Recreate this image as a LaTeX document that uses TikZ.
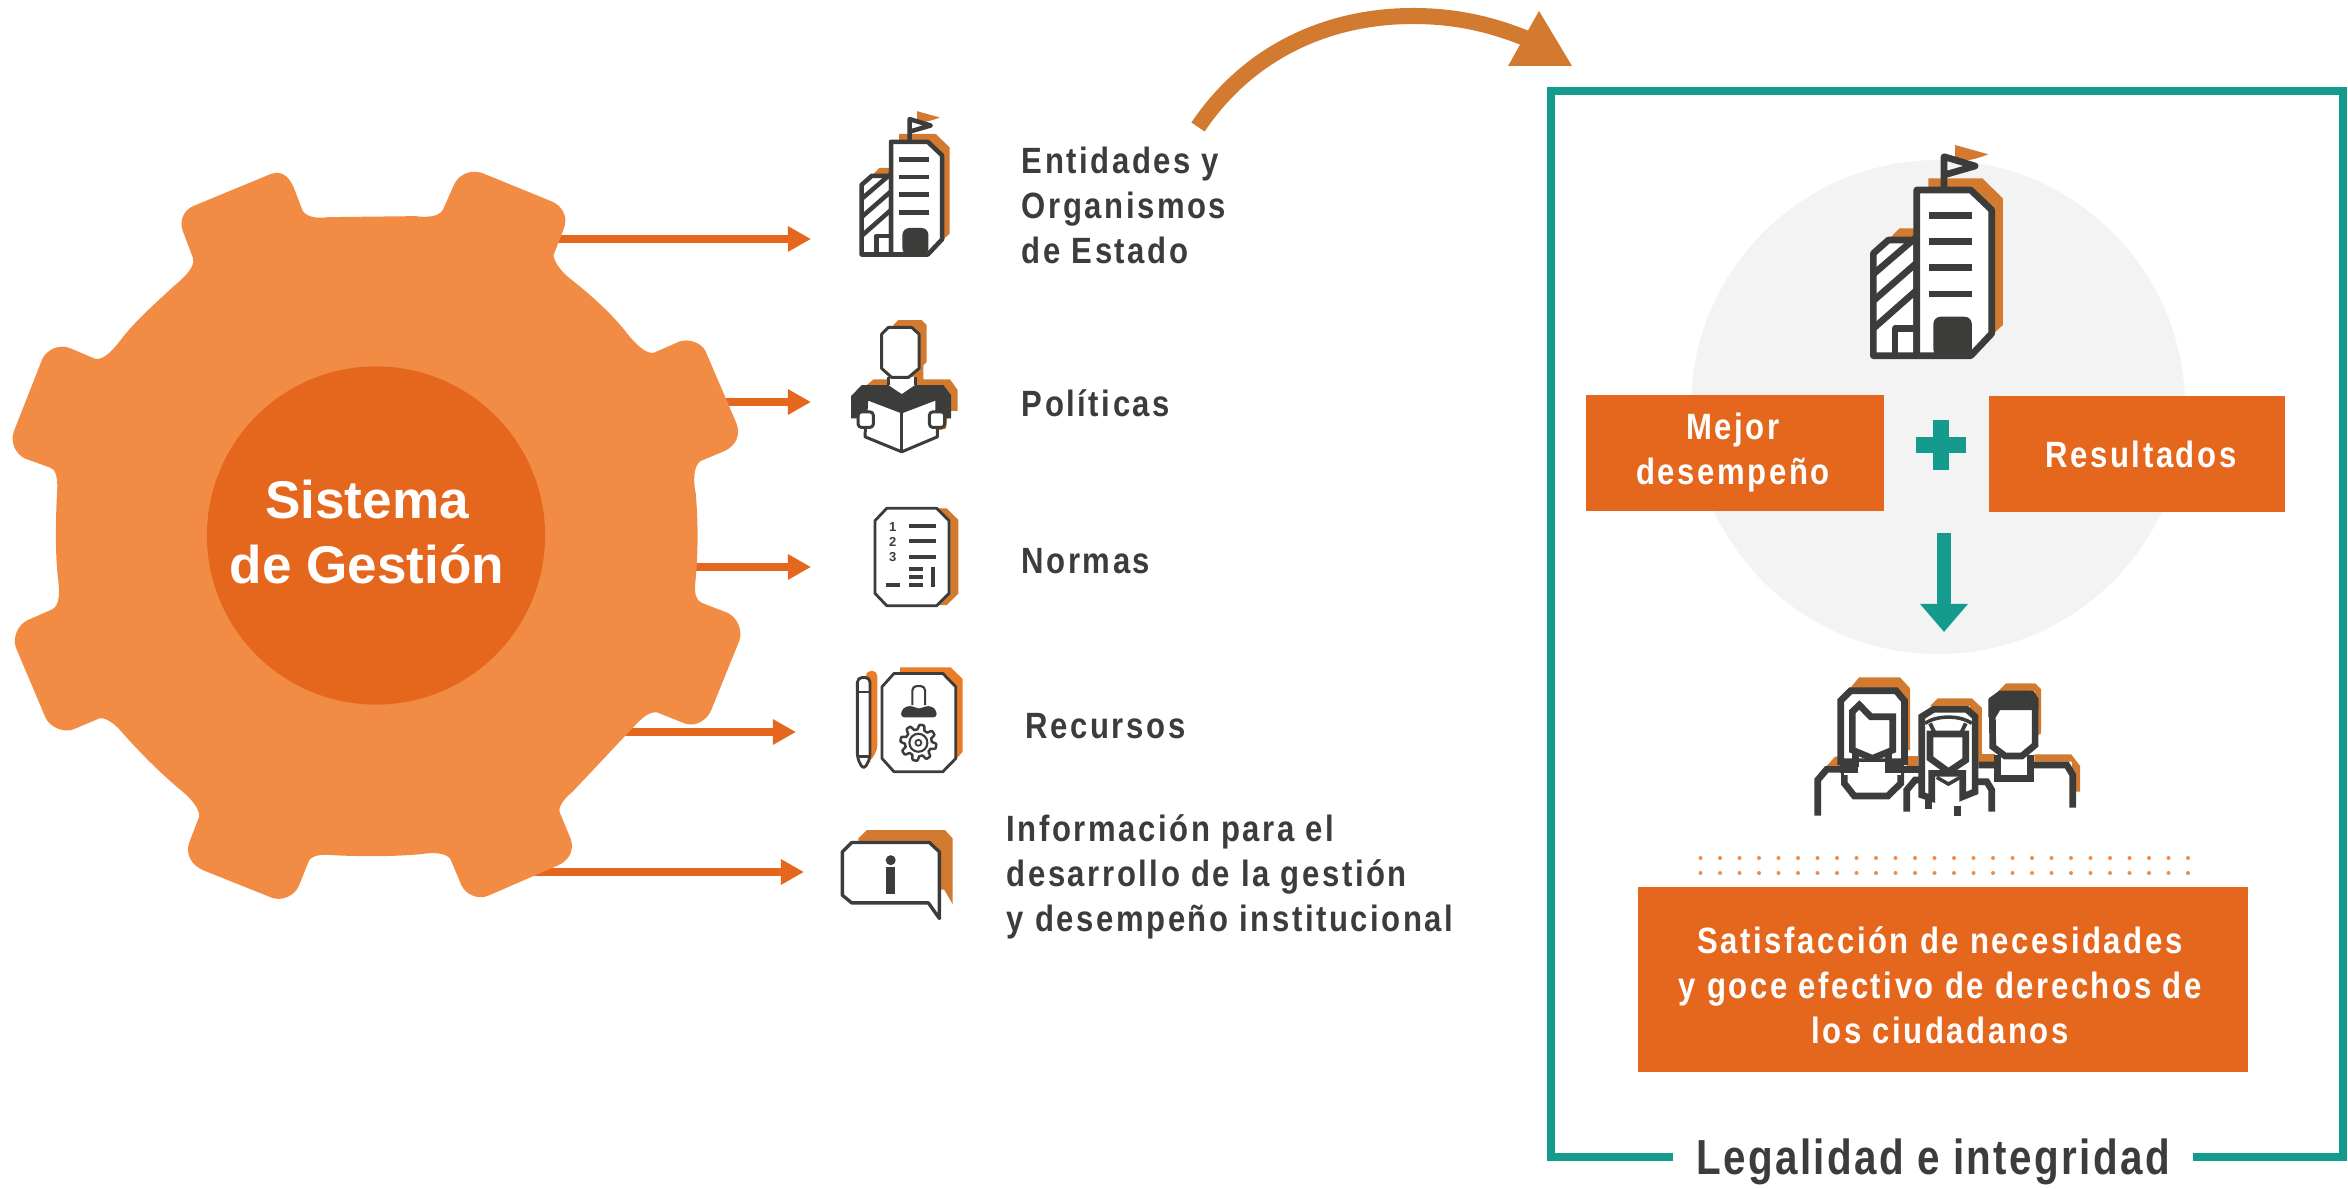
\documentclass[tikz,border=0pt]{standalone}
\usepackage{fontspec}
\usetikzlibrary{arrows.meta}
\setmainfont{Liberation Sans}
\newfontfamily\lblfont[LetterSpace=7,FakeStretch=0.85]{Liberation Sans}
\newfontfamily\legalfont[LetterSpace=4.8,FakeStretch=0.82]{Liberation Sans}
\definecolor{gearc}{HTML}{F28C45}
\definecolor{deep}{HTML}{E5671E}
\definecolor{shad}{HTML}{D17A30}
\definecolor{shadb}{HTML}{EC7C26}
\definecolor{ink}{HTML}{3C3C3B}
\definecolor{teal}{HTML}{159A8E}
\definecolor{halo}{HTML}{F3F3F3}
\newcommand\buildingicon[3]{%
  \pgfmathsetmacro\ux{#3*0.09484}\pgfmathsetmacro\lw{\ux*20}%
  \begin{scope}[shift={(#1,#2)},x=\ux pt,y=-\ux pt,line width=\lw pt,line join=round]
    \fill[shad] (325,185)--(325,145)--(487,145)--(548,205)--(548,585)--(510,620)--(325,620)--cycle;
    \fill[shad] (212,322)--(238,295)--(290,295)--(290,322)--cycle;
    \fill[shad] (405,45)--(505,73)--(470,85)--(405,100)--cycle;
    \filldraw[draw=ink,fill=white] (160,677)--(160,370)--(205,330)--(290,330)--(290,677)--cycle;
    \draw[ink] (160,432)--(288,322) (160,512)--(288,400) (160,595)--(288,482);
    \draw[ink] (225,677)--(225,595)--(290,595);
    \filldraw[draw=ink,fill=white] (290,677)--(290,180)--(452,180)--(515,240)--(515,610)--(452,677)--cycle;
    \foreach \yy in {257,335,413,492}{\draw[ink,line join=miter] (327,\yy)--(457,\yy);}
    \fill[ink,rounded corners=2pt] (340,680)--(340,560)--(455,560)--(455,680)--cycle;
    \draw[ink] (372,180)--(372,80)--(465,108)--(372,135);
  \end{scope}}
\tikzset{
  lbl/.style={font=\lblfont\bfseries\fontsize{10.4}{12.8}\selectfont,text=ink,align=left,anchor=west,inner sep=0pt},
  boxt/.style={font=\lblfont\bfseries\fontsize{10.4}{12.8}\selectfont,text=white,align=center,inner sep=0pt},
  arw/.style={draw=deep,line width=0.08cm,-{Triangle[length=0.23cm,width=0.24cm,fill=deep]}},
  zf/.style={x=0.09484pt,y=-0.09484pt},
  darkl/.style={draw=ink,line join=round},
}
\begin{document}
\begin{tikzpicture}[x=0.01cm,y=-0.01cm]
\useasboundingbox (0,0) rectangle (2348,1189);
% arrow ends
\coordinate (s1) at (500,239); \coordinate (t1) at (811,239);
\coordinate (s2) at (650,402); \coordinate (t2) at (811,402);
\coordinate (s3) at (650,567); \coordinate (t3) at (811,567);
\coordinate (s4) at (600,732); \coordinate (t4) at (796,732);
\coordinate (s5) at (500,872); \coordinate (t5) at (804,872);
\foreach \i in {1,...,5}{\draw[arw] (s\i)--(t\i);}
% gear
\begin{scope}[shift={(0,140)},x=0.14153pt,y=-0.14153pt]
\fill[gearc] (390,132) -- (545,68) .. controls (570,60) and (582,78) .. (590,95) -- (608,142) .. controls (618,158) and (645,157) .. (660,155) -- (835,153) .. controls (855,156) and (882,155) .. (890,140) -- (910,95) .. controls (918,72) and (942,58) .. (968,66) -- (1110,124) .. controls (1130,133) and (1142,155) .. (1133,178) -- (1112,232) .. controls (1115,250) and (1135,272) .. (1150,282) .. controls (1195,318) and (1235,355) .. (1265,395) .. controls (1280,412) and (1300,432) .. (1315,427) -- (1365,405) .. controls (1385,398) and (1410,408) .. (1418,425) -- (1480,570) .. controls (1488,592) and (1480,612) .. (1458,624) -- (1408,645) .. controls (1392,655) and (1393,690) .. (1398,710) .. controls (1403,770) and (1403,830) .. (1397,890) .. controls (1395,910) and (1398,925) .. (1410,930) -- (1462,950) .. controls (1482,960) and (1492,985) .. (1486,1005) -- (1428,1148) .. controls (1418,1168) and (1395,1180) .. (1375,1172) -- (1320,1150) .. controls (1305,1148) and (1290,1162) .. (1280,1172) -- (1150,1310) .. controls (1135,1322) and (1120,1340) .. (1125,1352) -- (1147,1405) .. controls (1155,1430) and (1140,1450) .. (1120,1458) -- (982,1518) .. controls (960,1528) and (935,1515) .. (927,1497) -- (905,1445) .. controls (895,1430) and (865,1432) .. (845,1435) .. controls (790,1440) and (725,1440) .. (670,1437) .. controls (645,1435) and (625,1437) .. (620,1450) -- (600,1500) .. controls (590,1520) and (565,1530) .. (545,1522) -- (410,1468) .. controls (385,1458) and (372,1435) .. (380,1412) -- (400,1360) .. controls (402,1345) and (385,1325) .. (370,1312) .. controls (325,1275) and (285,1235) .. (245,1190) .. controls (230,1172) and (212,1160) .. (200,1162) -- (148,1184) .. controls (128,1192) and (102,1180) .. (92,1162) -- (32,1020) .. controls (25,1000) and (35,975) .. (55,965) -- (105,943) .. controls (120,935) and (120,910) .. (117,885) .. controls (110,825) and (112,760) .. (115,700) .. controls (116,680) and (112,660) .. (100,658) -- (50,640) .. controls (30,630) and (20,605) .. (28,585) -- (85,440) .. controls (95,420) and (120,410) .. (140,418) -- (192,440) .. controls (210,442) and (228,420) .. (240,405) .. controls (270,365) and (310,330) .. (350,293) .. controls (372,275) and (392,255) .. (388,238) -- (367,182) .. controls (360,160) and (370,140) .. (390,132) -- cycle;
\end{scope}
\node[circle,fill=deep,minimum size=3.38cm,inner sep=0pt] (core) at (376,535.5) {};
\node[inner sep=0pt,text=white,align=center,font=\bfseries\fontsize{15.1}{18.35}\selectfont] (coret) at (367,532) {Sistema\\de Gestión};
% icons
\buildingicon{825.3}{101}{0.68}
% man
\begin{scope}[shift={(820,90)},zf,line width=0.85pt]
\fill[shad] (220,705)--(235,690)--(305,690)--(320,705)--(320,815)--(310,825)--(310,868)--(390,868)--(413,900)--(413,962)--(385,962)--(378,1015)--(360,1020)--(140,885)--(160,868)--(220,868)--cycle;
\fill[white] (205,860)--(285,860)--(285,890)--(245,915)--(205,890)--cycle;
\draw[darkl] (205,860)--(205,885) (285,860)--(285,885);
\fill[ink] (125,885)--(205,885)--(245,912)--(285,885)--(370,885)--(393,915)--(393,985)--(345,985)--(345,925)--(245,965)--(142,925)--(142,985)--(93,985)--(93,918)--cycle;
\filldraw[darkl,fill=white] (205,712)--(275,712)--(297,732)--(297,835)--(265,862)--(215,862)--(185,835)--(185,732)--cycle;
\filldraw[darkl,fill=white] (140,925)--(245,965)--(350,925)--(352,1040)--(245,1085)--(135,1040)--cycle;
\draw[darkl] (245,965)--(245,1085);
\filldraw[darkl,fill=white,rounded corners=1pt] (114,965) rectangle (160,1012);
\filldraw[darkl,fill=white,rounded corners=1pt] (328,965) rectangle (374,1012);
\end{scope}
% normas
\begin{scope}[shift={(820,480)},zf,line width=0.8pt]
\fill[shad] (350,85)--(380,85)--(415,120)--(415,340)--(380,375)--(350,375)--cycle;
\filldraw[darkl,fill=white] (200,85)--(350,85)--(387,122)--(387,340)--(350,377)--(200,377)--(165,340)--(165,122)--cycle;
\node[text=ink,font=\bfseries\fontsize{3.7}{4}\selectfont,inner sep=0pt] (n1) at (218,141) {1};
\node[text=ink,font=\bfseries\fontsize{3.7}{4}\selectfont,inner sep=0pt] (n2) at (218,185) {2};
\node[text=ink,font=\bfseries\fontsize{3.7}{4}\selectfont,inner sep=0pt] (n3) at (218,231) {3};
\draw[ink,line width=1.1pt] (267,138)--(348,138) (267,183)--(348,183) (267,231)--(348,231) (267,267)--(308,267) (267,291)--(308,291) (267,315)--(308,315) (338,261)--(338,321) (198,315)--(240,315);
\end{scope}
% recursos
\begin{scope}[shift={(820,480)},zf,line width=0.8pt]
\fill[shadb] (240,562)--(392,562)--(428,597)--(428,815)--(405,840)--(240,840)--cycle;
\fill[shadb,rounded corners=1.5pt] (138,590)--(138,572)--(172,572)--(172,810)--(150,845)--(138,845)--cycle;
\filldraw[darkl,fill=white] (222,580)--(368,580)--(407,620)--(407,835)--(368,875)--(222,875)--(186,835)--(186,620)--cycle;
\filldraw[darkl,fill=white,rounded corners=1.4pt] (112,835)--(112,592)--(150,592)--(150,835)--(131,870)--cycle;
\draw[ink,line width=0.5pt] (112,635)--(150,635);
\draw[ink] (112,830)--(150,830);
\draw[darkl,rounded corners=1.2pt,line width=0.6pt] (277,675)--(277,618)--(315,618)--(315,675);
\fill[ink,rounded corners=1pt] (243,712)--(243,692)--(258,678)--(280,678)--(296,688)--(315,678)--(335,678)--(350,692)--(350,712)--cycle;
\begin{scope}[shift={(295,788)}]
\draw[darkl,line width=0.7pt] plot[domain=0:360,samples=145] ({(47+7*min(1,max(-1,2*sin(8*\x)))*1)*cos(\x)},{(47+7*min(1,max(-1,2*sin(8*\x))))*sin(\x)})--cycle;
\draw[ink,line width=0.6pt] (0,0) circle (27);
\draw[ink,line width=0.5pt] (0,0) circle (9);
\end{scope}
\end{scope}
% info
\begin{scope}[shift={(820,480)},zf,line width=0.95pt]
\fill[shad] (140,1050)--(375,1050)--(398,1075)--(398,1272)--(372,1228)--(350,1228)--(350,1100)--(115,1085)--(115,1075)--cycle;
\filldraw[darkl,fill=white] (95,1087)--(328,1087)--(358,1115)--(358,1315)--(325,1268)--(95,1268)--(67,1245)--(67,1115)--cycle;
\fill[ink] (212,1140) circle (15);
\fill[ink] (199,1160) rectangle (225,1242);
\end{scope}
% curved arrow
\coordinate (cs) at (1198,127);\coordinate (ct) at (1525,38);
\draw[shad,line width=0.16cm] (cs) .. controls (1250,50) and (1330,16) .. (1413,16) .. controls (1455,16) and (1490,24) .. (ct);
\fill[shad] (1539,11)--(1572,66)--(1508,66)--cycle;
% frame
\fill[halo] (1938,407) circle (247);
\buildingicon{1820}{130}{1}
\draw[teal,line width=0.08cm] (1551,91) rectangle (2343,1157);
\node[fill=white,minimum width=5.2cm,inner xsep=0pt,inner ysep=1pt,text=ink,font=\legalfont\bfseries\fontsize{14}{16}\selectfont,anchor=base] (legal) at (1933,1175) {Legalidad e integridad};
% boxes
\node[fill=deep,minimum width=2.98cm,minimum height=1.16cm,inner sep=0pt] (b1) at (1735,453) {};
\node[boxt] (b1t) at (1733,453) {Mejor\\desempeño};
\node[fill=deep,minimum width=2.96cm,minimum height=1.16cm,inner sep=0pt] (b2) at (2137,454) {};
\node[boxt] (b2t) at (2141,454) {Resultados};
\fill[teal] (1916,437) rectangle (1966,453);
\fill[teal] (1933,420) rectangle (1949,470);
\coordinate (ds) at (1944,533);\coordinate (dt) at (1944,632);
\draw[teal,line width=0.14cm,-{Triangle[length=0.28cm,width=0.46cm,fill=teal]}] (ds)--(dt);
% people
\begin{scope}[shift={(1790,660)},zf,line width=1.9pt]
\fill[shad] (180,85)--(207,52)--(330,52)--(360,85)--(360,270)--(300,270)--(300,85)--cycle;
\fill[shad] (110,318)--(135,290)--(150,290)--(150,318)--cycle;
\fill[shad] (350,288)--(385,288)--(385,318)--(350,318)--cycle;
\fill[shad] (420,138)--(443,115)--(545,115)--(575,143)--(575,300)--(540,300)--(540,138)--cycle;
\fill[shad] (565,282)--(615,282)--(615,305)--(565,305)--cycle;
\fill[shad] (625,93)--(648,70)--(735,70)--(753,88)--(753,220)--(735,230)--(735,93)--cycle;
\fill[shad] (733,283)--(843,283)--(870,318)--(870,395)--(845,395)--(845,305)--(733,305)--cycle;
% left shoulders
\draw[ink,line join=miter] (83,467)--(83,360)--(110,328)--(160,328);
\draw[ink,line join=miter] (343,328)--(395,328);
\draw[ink,line join=miter] (350,455)--(350,390)--(375,360)--(395,360);
\draw[ink,line join=miter] (163,338)--(163,370)--(193,408)--(293,408)--(332,370)--(332,338);
% woman
\filldraw[draw=ink,fill=white,line join=miter] (152,305)--(152,122)--(182,92)--(318,92)--(343,122)--(343,305)--cycle;
\fill[white] (162,305) rectangle (333,345);
\fill[ink] (150,305) rectangle (205,338);
\fill[ink] (285,305) rectangle (343,338);
\draw[ink] (197,280)--(197,320) (295,280)--(295,320);
\filldraw[draw=ink,fill=white,line join=miter] (187,270)--(187,155)--(208,135)--(242,170)--(308,170)--(308,270)--(247,295)--cycle;
% girl
\filldraw[draw=ink,fill=white,line join=miter] (395,405)--(395,170)--(430,148)--(530,148)--(555,170)--(555,395)--(518,410)--(518,340)--(425,340)--(425,415)--cycle;
\draw[ink,line width=1pt] (405,190) .. controls (440,165) and (510,165) .. (545,190);
\draw[ink,line width=1.1pt] (420,190)--(432,215) (527,190)--(515,215);
\filldraw[draw=ink,fill=white,line join=miter] (420,222)--(527,222)--(527,300)--(475,335)--(420,295)--cycle;
\draw[ink,line width=1pt] (440,352)--(475,372)--(510,352);
\draw[ink] (415,415)--(415,447) (503,437)--(503,467);
\draw[ink,line join=miter] (555,365)--(590,365)--(605,390)--(605,455);
% man
\draw[ink,line join=miter] (565,315)--(622,315) (722,315)--(830,315)--(848,345)--(848,443);
\filldraw[draw=ink,fill=white,line join=miter] (622,285)--(622,355)--(722,355)--(722,285);
\filldraw[draw=ink,fill=white,line join=miter] (606,120)--(630,103)--(725,103)--(735,120)--(735,255)--(695,288)--(645,288)--(608,260)--cycle;
\fill[ink] (595,172)--(595,118)--(628,92)--(722,92)--(745,115)--(745,150)--(630,150)--(617,172)--cycle;
\end{scope}
% dots
\foreach \i in {0,...,25}{
  \fill[gearc] ({1700.5+19.5*\i},858) circle (2);
  \fill[gearc] ({1700.5+19.5*\i},873) circle (2);
}
% bottom box
\node[fill=deep,minimum width=6.10cm,minimum height=1.85cm,inner sep=0pt] (b3) at (1943,979.5) {};
\node[boxt] (b3t) at (1940,985) {Satisfacción de necesidades\\y goce efectivo de derechos de\\los ciudadanos};
% labels
\node[lbl] (l1) at (1021,205) {Entidades y\\Organismos\\de Estado};
\node[lbl] (l2) at (1021,403) {Políticas};
\node[lbl] (l3) at (1021,561) {Normas};
\node[lbl] (l4) at (1025,726) {Recursos};
\node[lbl] (l5) at (1006,877) {Información para el\\desarrollo de la gestión\\y desempeño institucional};
\end{tikzpicture}
\end{document}
